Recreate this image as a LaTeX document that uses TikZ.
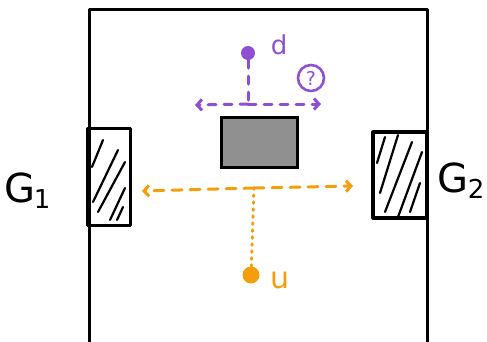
\documentclass[tikz,border=0pt]{standalone}
\usepackage{fontspec}
\setmainfont{DejaVu Sans}
\usetikzlibrary{arrows.meta}
\definecolor{pur}{HTML}{8E4FD3}
\definecolor{org}{HTML}{F59E0B}
\definecolor{boxgray}{HTML}{909090}
\begin{document}
\begin{tikzpicture}[x=1pt,y=-1pt,
  wall/.style={line width=3pt,black,line cap=round,line join=round},
  gbox/.style={draw=black,line width=3.2pt,line join=round},
  hatch/.style={line width=2.2pt,line cap=round},
  purdash/.style={pur,line width=3pt,dash pattern=on 8pt off 8pt,line cap=round},
  orgdash/.style={org,line width=3pt,dash pattern=on 10pt off 8pt,line cap=round},
  orgdot/.style={org,line width=3pt,dash pattern=on 1.5pt off 5.5pt,line cap=round},
  tip/.style={-{Straight Barb[length=5pt,width=11pt]}},
  lab/.style={font=\fontsize{40}{40}\selectfont},
  sub/.style={font=\fontsize{26}{26}\selectfont}
]
\useasboundingbox (0,0) rectangle (487,341);
% walls
\draw[wall] (89,343) -- (89,9) -- (427,9) -- (427,343);
% G1 box
\node[gbox,minimum width=43pt,minimum height=97pt,inner sep=0pt] (g1) at (109,177) {};
\draw[hatch] (92,167) -- (103,140);
\draw[hatch] (93,202) -- (118,150);
\draw[hatch] (98,212) -- (125,162);
\draw[hatch] (110,220) -- (125,188);
\draw[hatch] (117,220) -- (123,207);
% G2 box
\node[gbox,minimum width=54pt,minimum height=86pt,inner sep=0pt] (g2) at (400,175) {};
\draw[hatch] (377,163) -- (385,137);
\draw[hatch] (380,193) -- (398,135);
\draw[hatch] (385,212) -- (412,142);
\draw[hatch] (398,217) -- (422,152);
\draw[hatch] (410,212) -- (420,183);
% gray box
\node[draw=black,line width=3pt,fill=boxgray,minimum width=76pt,minimum height=50pt,inner sep=0pt] (obs) at (259,142) {};
% labels
\node[lab,inner sep=0pt] (lg1) at (20,188) {G};
\node[sub,inner sep=0pt,anchor=west] (lg1s) at ([xshift=-2pt,yshift=-11pt]lg1.east) {1};
\node[lab,inner sep=0pt] (lg2) at (453,178) {G};
\node[sub,inner sep=0pt,anchor=west] (lg2s) at ([xshift=-1pt,yshift=-11pt]lg2.east) {2};
% purple
\node[circle,fill=pur,minimum size=14pt,inner sep=0pt] (d) at (248,53) {};
\node[pur,font=\fontsize{26}{26}\selectfont,inner sep=0pt] (dl) at (279,45) {d};
\coordinate (pj) at (248,104);
\coordinate (pl) at (195,105);
\coordinate (pr) at (321,104);
\draw[purdash] (d) -- (pj);
\draw[purdash,tip] (pj) -- (pl);
\draw[purdash,tip] (pj) -- (pr);
\node[draw=pur,line width=2.6pt,circle,minimum size=26pt,inner sep=0pt,pur,font=\fontsize{19}{19}\selectfont] (q) at (311,78) {?};
% orange
\node[circle,fill=org,minimum size=17pt,inner sep=0pt] (u) at (251,275) {};
\node[org,font=\fontsize{30}{30}\selectfont,inner sep=0pt] (ul) at (280,280) {u};
\coordinate (oj) at (254,188);
\coordinate (ol) at (142,191);
\coordinate (or) at (353,186);
\draw[orgdot] (u) -- (oj);
\draw[orgdash,tip] (oj) -- (ol);
\draw[orgdash,tip] (oj) -- (or);
\end{tikzpicture}
\end{document}
